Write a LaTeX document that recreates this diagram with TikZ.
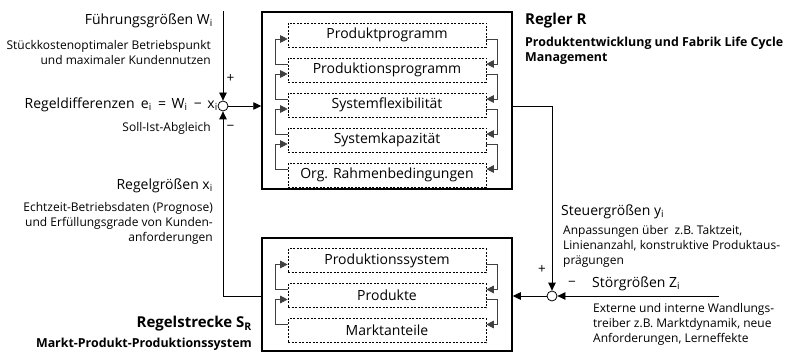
\documentclass[tikz,border=0pt]{standalone}
\usepackage{fontspec}
\setmainfont{Open Sans}
\usetikzlibrary{arrows.meta}
\begin{document}
\begin{tikzpicture}[x=1pt,y=-1pt,
  frame/.style={draw, line width=1.5pt, minimum width=250pt, inner sep=0pt},
  part/.style={draw, line width=0.6pt, dash pattern=on 2pt off 1.5pt,
    minimum width=198pt, minimum height=24pt, inner sep=0pt,
    font=\fontsize{14}{16}\selectfont},
  link/.style={draw=black!75, line width=0.7pt, -{Triangle[length=7.5pt,width=7.5pt]}},
  flow/.style={line width=0.8pt, -{Triangle[length=8pt,width=7.5pt]}},
  sum/.style={circle, draw, line width=0.8pt, minimum size=10pt, inner sep=0pt},
  big/.style={font=\fontsize{14}{16}\selectfont, inner sep=0pt},
  small/.style={font=\fontsize{12}{15}\selectfont, inner sep=0pt},
  title/.style={font=\bfseries\fontsize{15}{17}\selectfont, inner sep=0pt},
  subtitle/.style={font=\bfseries\fontsize{12.4}{14.5}\selectfont, inner sep=0pt, align=left},
  sign/.style={font=\fontsize{13.5}{15}\selectfont, inner sep=0pt}
]
\useasboundingbox (0,0) rectangle (788,353);

% controller block with its five sub-levels
\node[frame, minimum height=177pt] (R) at (387,100.5) {};
\node[part] (r1) at (387,35) {Produktprogramm};
\node[part] (r2) at (387,70) {Produktionsprogramm};
\node[part] (r3) at (387,105) {Systemflexibilität};
\node[part] (r4) at (387,140) {Systemkapazität};
\node[part] (r5) at (387,175) {Org. Rahmenbedingungen};

% controlled system block
\node[frame, minimum height=113pt] (S) at (387,294.5) {};
\node[part] (s1) at (387,260.5) {Produktionssystem};
\node[part] (s2) at (387,295.5) {Produkte};
\node[part] (s3) at (387,330.5) {Marktanteile};

% feedback links between neighbouring levels
\foreach \a/\b in {r1/r2,r2/r3,r3/r4,r4/r5,s1/s2,s2/s3}{
  \draw[link] ([yshift=6pt]\b.west) -- ++(-12,0) |- ([yshift=-4pt]\a.west);
  \draw[link] ([yshift=-4pt]\a.east) -- ++(11,0) |- ([yshift=6pt]\b.east);
}

% summing points
\node[sum] (e) at (223,106) {};
\node[sum] (z) at (552,296) {};
\coordinate (wtop) at (223,11);
\coordinate (fb) at (223,296);
\coordinate (uout) at (552,106);
\coordinate (dist) at (719,296);

% signal flow
\draw[flow] (wtop) -- (e.north);
\draw[flow] (e.east) -- (e -| R.west);
\draw[flow] (fb -| S.west) -- (fb) -- (e.south);
\draw[flow] (uout -| R.east) -- (uout) -- (z.north);
\draw[flow] (z.west) -- (z -| S.east);
\draw[flow] (dist) -- (z.east);

\node[sign] (p1) at (230.5,78) {+};
\node[sign] (m1) at (230.5,128) {−};
\node[sign] (p2) at (542,269) {+};
\node[sign] (m2) at (572,284) {−};

% labels on the left
\node[big, anchor=east] (w) at (213,21) {Führungsgrößen W\textsubscript{i}};
\node[small, anchor=north east, align=right] (wt) at (211,40)
  {Stückkostenoptimaler Betriebspunkt\\und maximaler Kundennutzen};
\node[big, anchor=east] (ed) at (218,105)
  {Regeldifferenzen\hspace{0.45em}e\textsubscript{i}\hspace{0.45em}=\hspace{0.4em}W\textsubscript{i}\hspace{0.45em}−\hspace{0.4em}x\textsubscript{i}};
\node[small, anchor=east] (sa) at (211,128) {Soll-Ist-Abgleich};
\node[big, anchor=east] (x) at (213,186) {Regelgrößen x\textsubscript{i}};
\node[small, anchor=north east, align=right] (xt) at (213,202)
  {Echtzeit-Betriebsdaten (Prognose)\\und Erfüllungsgrade von Kunden-\\anforderungen};
\node[title, anchor=east] (st) at (252,324) {Regelstrecke S\textsubscript{R}};
\node[subtitle, anchor=east] (sst) at (252,344) {Markt-Produkt-Produktionssystem};

% labels on the right
\node[title, anchor=west] (rt) at (525,21) {Regler R};
\node[subtitle, anchor=north west] (rst) at (525,37)
  {Produktentwicklung und Fabrik Life Cycle\\Management};
\node[big, anchor=west] (y) at (561,212) {Steuergrößen y\textsubscript{i}};
\node[small, anchor=north west, align=left] (yt) at (563,225)
  {Anpassungen über\hspace{0.5em}z.B. Taktzeit,\\Linienanzahl, konstruktive Produktaus-\\prägungen};
\node[big, anchor=west] (d) at (592,284) {Störgrößen Z\textsubscript{i}};
\node[small, anchor=north west, align=left] (dt) at (593,303)
  {Externe und interne Wandlungs-\\treiber z.B. Marktdynamik, neue\\Anforderungen, Lerneffekte};
\end{tikzpicture}
\end{document}
